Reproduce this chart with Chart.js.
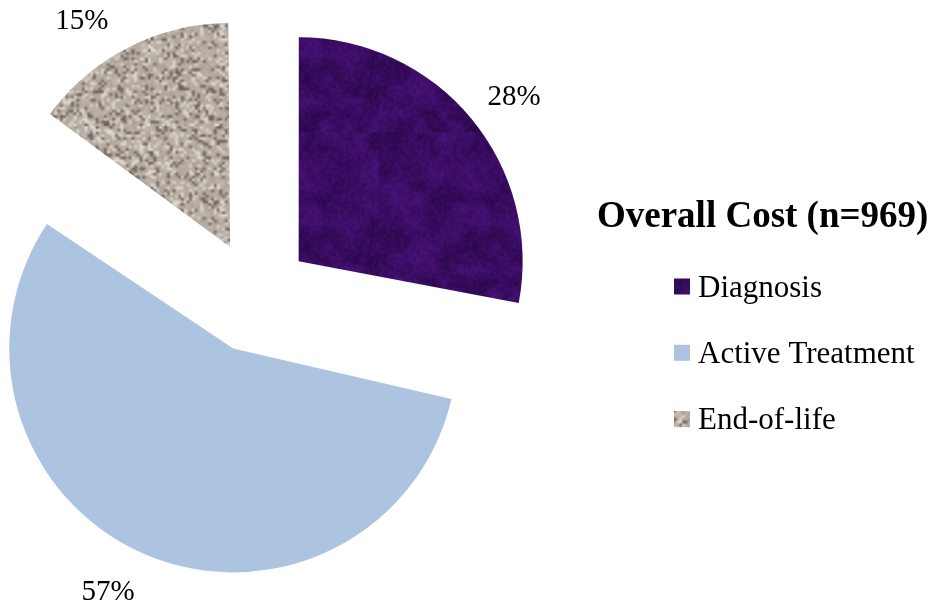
<!DOCTYPE html>
<html>
<head>
<meta charset="utf-8">
<script src="https://cdn.jsdelivr.net/npm/chart.js"></script>
<style>
    html, body { margin: 0; padding: 0; background: #fff; }
</style>
</head>
<body>
<canvas id="grafico" width="939" height="613"></canvas>
<script>
// datos del grafico
const etiquetas = ['Diagnosis', 'Active Treatment', 'End-of-life']
const porcentajes = [28, 57, 15]
const tituloLeyenda = 'Overall Cost (n=969)'

const RADIO = 224        // radio de cada porcion
const EXPLOSION = 56     // separacion de las porciones respecto al centro
const DIST_ETIQUETA = 272
const giroEtiqueta = [2, 4, -6]   // pequeño giro (grados) de cada etiqueta de %

const canvas = document.getElementById('grafico')
const ctx = canvas.getContext('2d')

// ruido determinista para las texturas
const ruido = (x, y, s) => {
    const v = Math.sin(x * 127.1 + y * 311.7 + s * 74.7) * 43758.5453
    return v - Math.floor(v)
}

const lienzo = (w, h) => {
    const c = document.createElement('canvas')
    c.width = w
    c.height = h
    return c
}

// textura morada oscura con manchas suaves
const texturaMorada = () => {
    const chico = lienzo(14, 14)
    const c1 = chico.getContext('2d')
    const img = c1.createImageData(14, 14)
    for (let y = 0; y < 14; y++) {
        for (let x = 0; x < 14; x++) {
            const v = ruido(x, y, 3)
            const i = (y * 14 + x) * 4
            img.data[i] = 44 + v * 26
            img.data[i + 1] = 8 + v * 10
            img.data[i + 2] = 78 + v * 40
            img.data[i + 3] = 255
        }
    }
    c1.putImageData(img, 0, 0)

    const grano = lienzo(70, 70)
    const c2 = grano.getContext('2d')
    const img2 = c2.createImageData(70, 70)
    for (let y = 0; y < 70; y++) {
        for (let x = 0; x < 70; x++) {
            const v = ruido(x, y, 7)
            const i = (y * 70 + x) * 4
            const claro = v > 0.5
            img2.data[i] = claro ? 105 : 20
            img2.data[i + 1] = claro ? 35 : 0
            img2.data[i + 2] = claro ? 155 : 40
            img2.data[i + 3] = 20 + v * 25
        }
    }
    c2.putImageData(img2, 0, 0)

    const grande = lienzo(168, 168)
    const g = grande.getContext('2d')
    g.imageSmoothingEnabled = true
    g.drawImage(chico, 0, 0, 168, 168)
    g.drawImage(grano, 0, 0, 168, 168)
    return ctx.createPattern(grande, 'repeat')
}

// textura tipo granito
const texturaGranito = () => {
    const n = 64
    const chico = lienzo(n, n)
    const c1 = chico.getContext('2d')
    const img = c1.createImageData(n, n)
    for (let y = 0; y < n; y++) {
        for (let x = 0; x < n; x++) {
            const v = ruido(x, y, 1)
            const t = ruido(x, y, 2) * 24 - 12
            let col
            if (v < 0.15) col = [112, 100, 92]
            else if (v > 0.8) col = [224, 217, 210]
            else col = [182 + t, 172 + t, 162 + t]
            const i = (y * n + x) * 4
            img.data[i] = col[0]
            img.data[i + 1] = col[1]
            img.data[i + 2] = col[2]
            img.data[i + 3] = 255
        }
    }
    c1.putImageData(img, 0, 0)

    const grande = lienzo(176, 176)
    const g = grande.getContext('2d')
    g.imageSmoothingEnabled = true
    g.drawImage(chico, 0, 0, 176, 176)
    return ctx.createPattern(grande, 'repeat')
}

const rellenos = [texturaMorada(), '#adc4e0', texturaGranito()]

// Chart.js agranda el radio de las porciones separadas, aqui lo dejamos igual para todas
const igualaRadio = {
    id: 'igualaRadio',
    afterDatasetUpdate(chart, args) {
        args.meta.data.forEach((arco) => {
            const fix = 1 - Math.sin(Math.min(Math.PI, arco.circumference))
            arco.outerRadius = RADIO - EXPLOSION * fix
        })
    }
}

// etiquetas de porcentaje fuera de cada porcion
const etiquetasPorcentaje = {
    id: 'etiquetasPorcentaje',
    afterDatasetsDraw(chart) {
        const c = chart.ctx
        const arcos = chart.getDatasetMeta(0).data
        c.save()
        c.font = '29px "Liberation Serif", "Times New Roman", serif'
        c.fillStyle = '#000'
        c.textAlign = 'center'
        c.textBaseline = 'alphabetic'
        arcos.forEach((arco, i) => {
            const medio = (arco.startAngle + arco.endAngle) / 2
            const cx = arco.x + Math.cos(medio) * EXPLOSION
            const cy = arco.y + Math.sin(medio) * EXPLOSION
            const ang = medio + giroEtiqueta[i] * Math.PI / 180
            const x = cx + Math.cos(ang) * DIST_ETIQUETA
            const y = cy + Math.sin(ang) * DIST_ETIQUETA
            c.fillText(porcentajes[i] + '%', x, y + 10)
        })
        c.restore()
    }
}

// leyenda con titulo a la derecha
const leyenda = {
    id: 'leyenda',
    afterDraw(chart) {
        const c = chart.ctx
        const colores = chart.data.datasets[0].backgroundColor
        c.save()
        c.fillStyle = '#000'
        c.textAlign = 'left'
        c.textBaseline = 'alphabetic'
        c.font = 'bold 37px "Liberation Serif", "Times New Roman", serif'
        c.fillText(tituloLeyenda, 597, 227)

        c.font = '31px "Liberation Serif", "Times New Roman", serif'
        chart.data.labels.forEach((nombre, i) => {
            const base = 296.5 + i * 66.3
            c.fillStyle = colores[i]
            c.fillRect(674, base - 18, 16, 16)
            c.fillStyle = '#000'
            c.fillText(nombre, 698, base)
        })
        c.restore()
    }
}

new Chart(ctx, {
    type: 'pie',
    data: {
        labels: etiquetas,
        datasets: [
            {
                data: porcentajes,
                backgroundColor: rellenos,
                borderWidth: 0,
                offset: EXPLOSION * 4,
                radius: RADIO,
            },
        ],
    },
    options: {
        responsive: false,
        animation: false,
        events: [],
        layout: { padding: { left: 0, top: 0, right: 428, bottom: 19 } },
        plugins: {
            legend: { display: false },
            tooltip: { enabled: false },
        },
    },
    plugins: [igualaRadio, etiquetasPorcentaje, leyenda],
})
</script>
</body>
</html>
